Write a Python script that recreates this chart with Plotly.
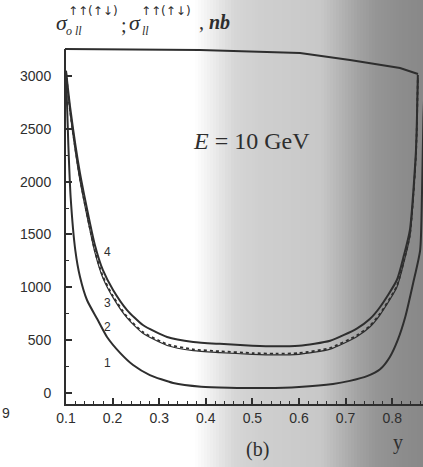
import plotly.graph_objects as go

# ---- data ----
x1 = [0.1, 0.105, 0.11, 0.12, 0.13, 0.145, 0.167, 0.188, 0.216, 0.244, 0.28, 0.33, 0.39, 0.45,
      0.53, 0.60, 0.673, 0.709, 0.746, 0.774, 0.795, 0.812, 0.828, 0.845, 0.860, 0.864, 0.867, 0.87]
c1 = [3030, 2350, 1850, 1350, 1100, 880, 700, 530, 380, 265, 170, 95, 60, 50,
      47, 57, 85, 115, 160, 225, 341, 502, 719, 1041, 1353, 1900, 2600, 3000]

x234 = [0.1, 0.109, 0.13, 0.162, 0.179, 0.201, 0.231, 0.265, 0.317, 0.373, 0.43, 0.5, 0.55, 0.6,
        0.667, 0.724, 0.752, 0.774, 0.81, 0.825, 0.838, 0.851, 0.855]
c4 = [3050, 2700, 2080, 1400, 1164, 975, 785, 643, 530, 483, 465, 448, 442, 448,
      495, 610, 700, 814, 1069, 1300, 1543, 2300, 3010]
c3 = [3040, 2660, 2030, 1345, 1105, 915, 722, 577, 462, 413, 395, 378, 372, 378,
      427, 545, 636, 752, 1012, 1248, 1495, 2260, 2990]
c2 = [3030, 2645, 2012, 1330, 1090, 902, 710, 565, 450, 401, 383, 366, 360, 366,
      415, 533, 624, 740, 1000, 1236, 1483, 2250, 2980]

curve_labels = ["4", "3", "2", "1"]
label_x = [0.19, 0.19, 0.19, 0.19]
label_y = [1334, 852, 625, 284]

x_ticks = [0.1, 0.2, 0.3, 0.4, 0.5, 0.6, 0.7, 0.8]
y_ticks = [0, 500, 1000, 1500, 2000, 2500, 3000]

INK = "#2e2e2e"

fig = go.Figure()
common = dict(mode="lines", line_shape="spline", showlegend=False, hoverinfo="skip")
fig.add_trace(go.Scatter(x=x1, y=c1, line=dict(color=INK, width=2, smoothing=0.6), **common))
fig.add_trace(go.Scatter(x=x234, y=c2, line=dict(color=INK, width=1.2, smoothing=0.6), **common))
fig.add_trace(go.Scatter(x=x234, y=c3, line=dict(color=INK, width=1.8, dash="dot", smoothing=0.6), **common))
fig.add_trace(go.Scatter(x=x234, y=c4, line=dict(color=INK, width=2, smoothing=0.6), **common))

# ---- scanned-page shading (column based) ----
W, H = 423, 467
L, R, T, B = 66, 0, 49, 63
pw, ph = W - L - R, H - T - B
def px(xp):
    return (xp - L) / pw
def py(yp):
    return (H - B - yp) / ph

shade = [(195, 255), (215, 234), (235, 214), (260, 207), (320, 200), (335, 186),
         (355, 165), (375, 150), (400, 141), (423, 136)]
def gray_at(p):
    for (a, ga), (b, gb) in zip(shade[:-1], shade[1:]):
        if a <= p <= b:
            return ga + (gb - ga) * (p - a) / (b - a)
    return shade[-1][1]
shapes = []
step = 3
xp = 195
while xp < W:
    g = int(round(gray_at(xp + step / 2)))
    shapes.append(dict(type="rect", xref="paper", yref="paper", x0=px(xp), x1=px(xp + step + 0.6),
                       y0=py(H + 5), y1=py(-5), fillcolor=f"rgb({g},{g},{g})",
                       line=dict(width=0), layer="below"))
    xp += step

# top frame line (bent in the scan)
top_pts = [(65, 49), (200, 50), (300, 53), (350, 60), (400, 68), (418, 74)]
path = "M " + " L ".join(f"{px(a):.4f},{py(b):.4f}" for a, b in top_pts)
shapes.append(dict(type="path", xref="paper", yref="paper", path=path,
                   line=dict(color=INK, width=2), layer="above"))

annotations = []
for t, lx, ly in zip(curve_labels, label_x, label_y):
    annotations.append(dict(x=lx, y=ly, xref="x", yref="y", text=t, showarrow=False,
                            font=dict(family="Liberation Sans", size=12, color=INK)))

serif = "Liberation Serif"
def note(text, xpix, ypix, size, xanchor="left", family=serif):
    annotations.append(dict(x=px(xpix), y=py(ypix), xref="paper", yref="paper", text=text,
                            showarrow=False, xanchor=xanchor, yanchor="middle",
                            font=dict(family=family, size=size, color=INK)))

# title  sigma_{o ll}^{↑↑(↑↓)} ; sigma_{ll}^{↑↑(↑↓)} , nb
note("<i>σ</i>", 54, 22, 22)
note("↑↑(↑↓)", 66, 11, 12, family="DejaVu Sans")
note("<i>o ll</i>", 64, 31, 12)
note(";", 119, 25, 20)
note("<i>σ</i>", 127, 22, 22)
note("↑↑(↑↓)", 139, 11, 12, family="DejaVu Sans")
note("<i>ll</i>", 140, 31, 12)
note(", <b><i>nb</i></b>", 197, 22, 20)

note("<i>E</i> = 10 GeV", 251, 141, 24, xanchor="center")
note("(b)", 257, 449, 20, xanchor="center")
note("y", 398, 442, 20, xanchor="center")
note("9", 0, 413, 14, family="Liberation Sans")

fig.update_layout(
    width=W, height=H,
    margin=dict(l=L, r=R, t=T, b=B, pad=0),
    paper_bgcolor="white", plot_bgcolor="rgba(0,0,0,0)",
    shapes=shapes, annotations=annotations,
    xaxis=dict(range=[0.1, 0.1 + pw / 466.0], tickvals=x_ticks,
               ticktext=[f"{v:.1f}" for v in x_ticks],
               ticks="inside", ticklen=6, tickwidth=1.5, tickcolor=INK,
               minor=dict(ticks="inside", ticklen=3, dtick=0.02, tick0=0.1, tickcolor=INK, tickwidth=1),
               showline=True, linecolor=INK, linewidth=2, showgrid=False, zeroline=False,
               tickfont=dict(family="Liberation Sans", size=14, color=INK)),
    yaxis=dict(range=[-104, 3255], tickvals=y_ticks, ticktext=[str(v) for v in y_ticks],
               ticks="inside", ticklen=6, tickwidth=1.5, tickcolor=INK,
               minor=dict(ticks="inside", ticklen=3, dtick=250, tick0=0, tickcolor=INK, tickwidth=1),
               showline=True, linecolor=INK, linewidth=2, showgrid=False, zeroline=False,
               ticklabelstandoff=10,
               tickfont=dict(family="Liberation Sans", size=14, color=INK)),
)

fig.write_html("out.html")
